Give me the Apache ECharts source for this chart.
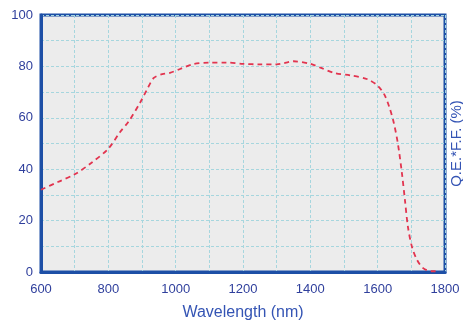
<!DOCTYPE html>
<html><head><meta charset="utf-8">
<script src="https://cdn.jsdelivr.net/npm/echarts@6/dist/echarts.min.js"></script>
<style>html,body{margin:0;padding:0;background:#fff}#c{width:463px;height:323px}</style>
</head><body><div id="c"></div>
<script>
const wavelength = [600, 650, 700, 750, 800, 835, 860, 894, 915, 935, 960, 983, 1013, 1050, 1100, 1150, 1200, 1250, 1300, 1350, 1400, 1430, 1470, 1520, 1570, 1600, 1620, 1635, 1648, 1660, 1672, 1681, 1690, 1702, 1717, 1735, 1760, 1785];
const qeff = [32, 35, 38, 42.5, 48, 54.5, 58.5, 65.8, 71, 75.5, 77, 77.5, 79, 80.8, 81.5, 81.5, 81, 80.8, 80.8, 82, 81, 79.5, 77.5, 76.5, 75, 72.5, 69, 64, 58, 50, 38.5, 28, 17.5, 9.7, 4.7, 1.5, 0.3, 0.3];
const xLabels = [600, 800, 1000, 1200, 1400, 1600, 1800];
const yLabels = [0, 20, 40, 60, 80, 100];

const navy = '#2f3f9c';
const chart = echarts.init(document.getElementById('c'));
chart.setOption({
  animation: false,
  grid: {left: 41, right: 18, top: 15, bottom: 51, outerBoundsMode: 'none', containLabel: false,
    show: true, backgroundColor: '#ececec', borderColor: '#1d4fa6', borderWidth: 3},
  xAxis: {
    type: 'value', min: 600, max: 1800, interval: 100,
    name: 'Wavelength (nm)', nameLocation: 'middle', nameGap: 33,
    nameTextStyle: {color: '#3454b4', fontSize: 16, fontFamily: 'Liberation Sans'},
    axisLine: {show: true, lineStyle: {color: '#1d4fa6', width: 3}},
    axisTick: {show: false},
    axisLabel: {color: navy, fontSize: 13, fontFamily: 'Liberation Sans', margin: 11,
      formatter: v => xLabels.includes(v) ? String(v) : ''},
    splitLine: {show: true, lineStyle: {color: '#a6d6de', type: [3, 2], width: 1}}
  },
  yAxis: [{
    type: 'value', min: 0, max: 100, interval: 10,
    axisLine: {show: true, lineStyle: {color: '#1d4fa6', width: 3}},
    axisTick: {show: false},
    axisLabel: {color: navy, fontSize: 13, fontFamily: 'Liberation Sans', margin: 8,
      formatter: v => yLabels.includes(v) ? String(v) : ''},
    splitLine: {show: true, lineStyle: {color: '#a6d6de', type: [3, 2], width: 1}}
  }, {
    type: 'value', min: 0, max: 100, position: 'right',
    name: 'Q.E.*F.F. (%)', nameLocation: 'middle', nameGap: 4, nameRotate: 90,
    nameTextStyle: {color: '#3454b4', fontSize: 15, fontFamily: 'Liberation Sans'},
    axisLine: {show: false}, axisTick: {show: false}, axisLabel: {show: false}, splitLine: {show: false}
  }],
  series: [{
    type: 'line', smooth: 0.3, showSymbol: false,
    data: wavelength.map((w, i) => [w, qeff[i]]),
    lineStyle: {color: '#e2344f', width: 1.8, type: [5, 4]}
  }]
});
</script></body></html>
